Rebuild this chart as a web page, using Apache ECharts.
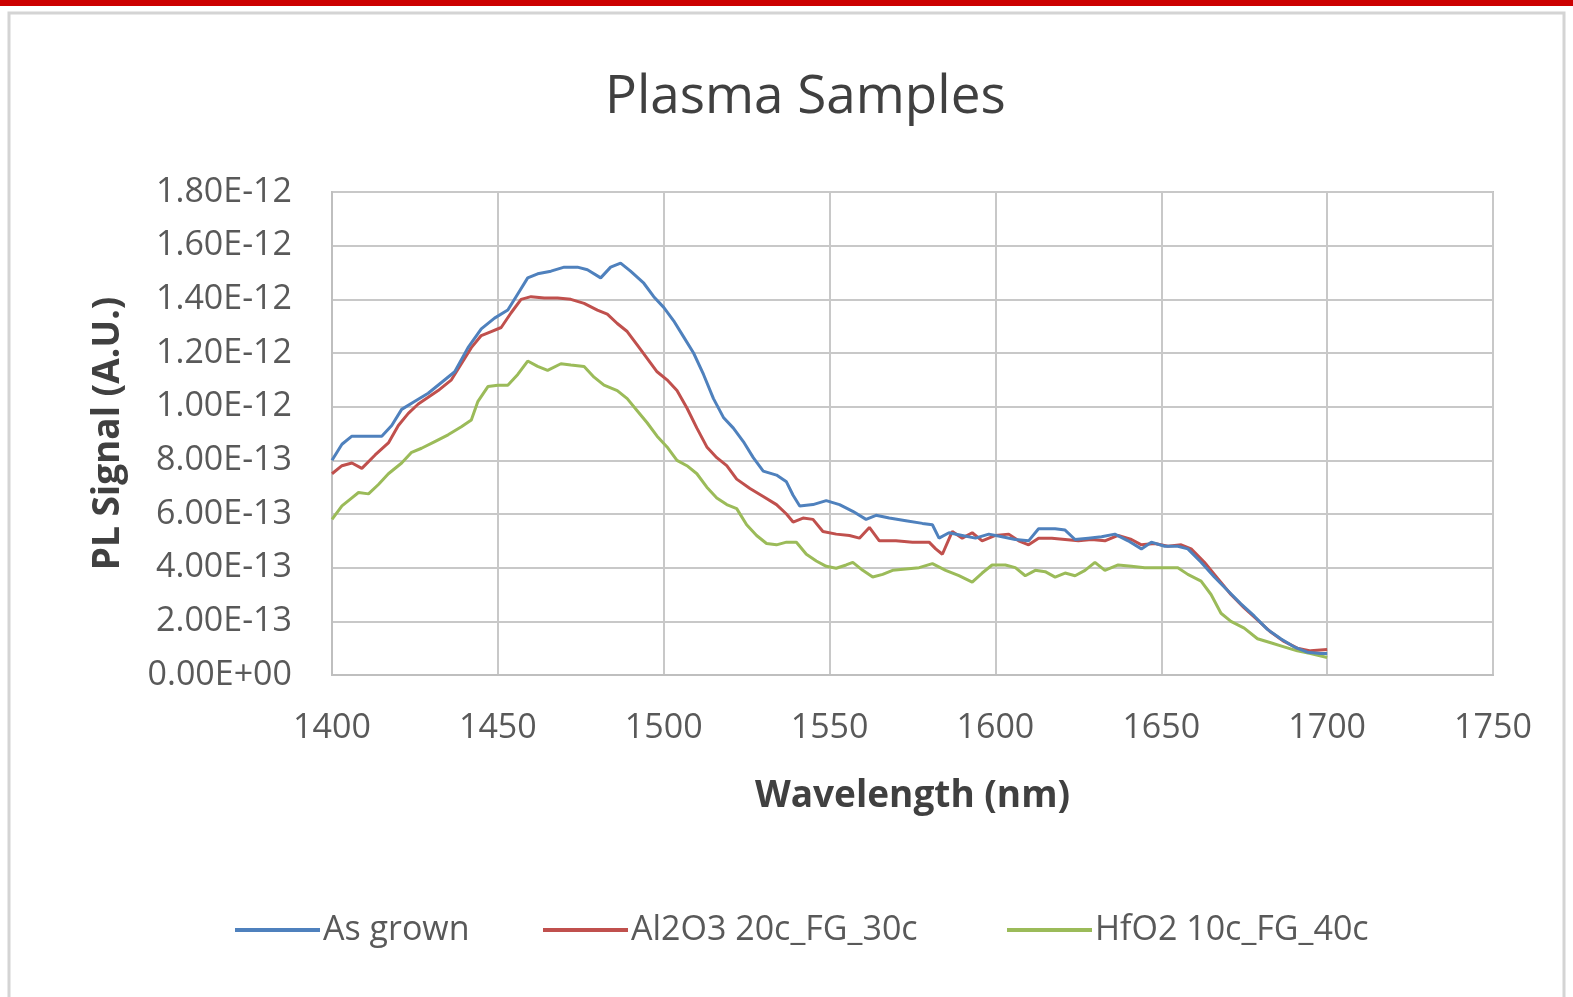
<!DOCTYPE html>
<html><head><meta charset="utf-8">
<script src="https://cdn.jsdelivr.net/npm/echarts@6/dist/echarts.min.js"></script>
<style>html,body{margin:0;padding:0;background:#fff;}#c{width:1573px;height:997px;}</style>
</head><body><div id="c"></div>
<script>
const seriesNames = ["As grown", "Al2O3 20c_FG_30c", "HfO2 10c_FG_40c"];
const xTicks = [1400, 1450, 1500, 1550, 1600, 1650, 1700, 1750];

const asGrownX = [1400,1403,1406,1410,1415,1418,1421,1425,1429,1433,1437,1441,1445,1449,1453,1456,1459,1462,1466,1470,1474,1477,1481,1484,1487,1490,1494,1497,1500,1503,1506,1509,1512,1515,1518,1521,1524,1527,1530,1534,1537,1539,1541,1545,1549,1553,1557,1561,1564,1568,1573,1578,1581,1583,1586,1590,1594,1598,1602,1606,1610,1613,1618,1621,1624,1628,1632,1636,1640,1644,1647,1651,1655,1658,1662,1666,1670,1674,1678,1682,1686,1690,1694,1698,1700];
const asGrownY = [8.0e-13,8.6e-13,8.9e-13,8.9e-13,8.9e-13,9.3e-13,9.9e-13,10.2e-13,10.5e-13,10.9e-13,11.3e-13,12.2e-13,12.9e-13,13.3e-13,13.6e-13,14.2e-13,14.8e-13,14.95e-13,15.05e-13,15.2e-13,15.2e-13,15.1e-13,14.8e-13,15.2e-13,15.35e-13,15.05e-13,14.6e-13,14.1e-13,13.7e-13,13.2e-13,12.6e-13,12.0e-13,11.2e-13,10.3e-13,9.6e-13,9.2e-13,8.7e-13,8.1e-13,7.6e-13,7.45e-13,7.2e-13,6.7e-13,6.3e-13,6.35e-13,6.5e-13,6.35e-13,6.1e-13,5.8e-13,5.95e-13,5.85e-13,5.75e-13,5.65e-13,5.6e-13,5.1e-13,5.3e-13,5.2e-13,5.1e-13,5.25e-13,5.15e-13,5.05e-13,5.0e-13,5.45e-13,5.45e-13,5.4e-13,5.05e-13,5.1e-13,5.15e-13,5.25e-13,5.0e-13,4.7e-13,4.95e-13,4.8e-13,4.8e-13,4.7e-13,4.2e-13,3.65e-13,3.15e-13,2.65e-13,2.2e-13,1.7e-13,1.35e-13,1.05e-13,0.85e-13,0.8e-13,0.8e-13];

const al2o3X = [1400,1403,1406,1409,1413,1417,1420,1423,1426,1429,1432,1436,1439,1442,1445,1448,1451,1454,1457,1460,1464,1468,1472,1476,1480,1483,1486,1489,1492,1495,1498,1501,1504,1507,1510,1513,1516,1519,1522,1526,1530,1534,1537,1539,1542,1545,1548,1552,1556,1559,1562,1565,1570,1575,1580,1582,1584,1587,1590,1593,1596,1600,1604,1607,1610,1613,1617,1621,1625,1629,1633,1637,1641,1644,1648,1652,1656,1659,1663,1667,1671,1675,1679,1683,1687,1691,1695,1700];
const al2o3Y = [7.5e-13,7.8e-13,7.9e-13,7.7e-13,8.2e-13,8.65e-13,9.3e-13,9.75e-13,10.1e-13,10.35e-13,10.6e-13,11.0e-13,11.6e-13,12.2e-13,12.65e-13,12.8e-13,12.95e-13,13.5e-13,14.0e-13,14.1e-13,14.05e-13,14.05e-13,14.0e-13,13.85e-13,13.6e-13,13.45e-13,13.1e-13,12.8e-13,12.3e-13,11.8e-13,11.3e-13,11.0e-13,10.6e-13,9.95e-13,9.2e-13,8.5e-13,8.1e-13,7.8e-13,7.3e-13,6.95e-13,6.65e-13,6.35e-13,6.0e-13,5.7e-13,5.85e-13,5.8e-13,5.35e-13,5.25e-13,5.2e-13,5.1e-13,5.5e-13,5.0e-13,5.0e-13,4.95e-13,4.95e-13,4.7e-13,4.5e-13,5.35e-13,5.1e-13,5.3e-13,5.0e-13,5.2e-13,5.25e-13,5.0e-13,4.85e-13,5.1e-13,5.1e-13,5.05e-13,5.0e-13,5.05e-13,5.0e-13,5.2e-13,5.05e-13,4.85e-13,4.9e-13,4.8e-13,4.85e-13,4.7e-13,4.2e-13,3.6e-13,3.0e-13,2.5e-13,2.05e-13,1.6e-13,1.25e-13,1.0e-13,0.9e-13,0.95e-13];

const hfo2X = [1400,1403,1406,1408,1411,1414,1417,1421,1424,1427,1431,1435,1439,1442,1444,1447,1450,1453,1456,1459,1462,1465,1469,1472,1476,1479,1482,1486,1489,1492,1495,1498,1501,1504,1507,1510,1513,1516,1519,1522,1525,1528,1531,1534,1537,1540,1543,1546,1549,1552,1555,1557,1560,1563,1566,1569,1573,1577,1581,1585,1589,1593,1596,1599,1603,1606,1609,1612,1615,1618,1621,1624,1627,1630,1633,1637,1641,1645,1650,1655,1658,1662,1665,1668,1671,1675,1679,1683,1687,1691,1695,1700];
const hfo2Y = [5.8e-13,6.3e-13,6.6e-13,6.8e-13,6.75e-13,7.1e-13,7.5e-13,7.9e-13,8.3e-13,8.45e-13,8.7e-13,8.95e-13,9.25e-13,9.5e-13,10.2e-13,10.75e-13,10.8e-13,10.8e-13,11.2e-13,11.7e-13,11.5e-13,11.35e-13,11.6e-13,11.55e-13,11.5e-13,11.1e-13,10.8e-13,10.6e-13,10.3e-13,9.85e-13,9.4e-13,8.9e-13,8.5e-13,8.0e-13,7.8e-13,7.5e-13,7.0e-13,6.6e-13,6.35e-13,6.2e-13,5.6e-13,5.2e-13,4.9e-13,4.85e-13,4.95e-13,4.95e-13,4.5e-13,4.25e-13,4.05e-13,3.98e-13,4.1e-13,4.2e-13,3.9e-13,3.65e-13,3.75e-13,3.9e-13,3.95e-13,4.0e-13,4.15e-13,3.9e-13,3.7e-13,3.46e-13,3.8e-13,4.1e-13,4.1e-13,4.0e-13,3.7e-13,3.9e-13,3.85e-13,3.65e-13,3.8e-13,3.7e-13,3.9e-13,4.2e-13,3.9e-13,4.1e-13,4.05e-13,4.0e-13,4.0e-13,4.0e-13,3.75e-13,3.5e-13,3.0e-13,2.3e-13,2.0e-13,1.75e-13,1.35e-13,1.2e-13,1.05e-13,0.9e-13,0.8e-13,0.65e-13];

const colors = ["#4F81BD", "#C0504D", "#9BBB59"];

function zip(xs, ys) { return xs.map((x, i) => [x, ys[i]]); }
function fmtE(v) {
  let s = Number(v).toExponential(2).toUpperCase();
  return s.replace(/E([+-])(\d)$/, "E$10$2");
}

const chart = echarts.init(document.getElementById('c'), null, {renderer: 'canvas'});
const font = '"Open Sans", Lato, sans-serif';
const lineSeries = [[asGrownX, asGrownY], [al2o3X, al2o3Y], [hfo2X, hfo2Y]].map((p, i) => ({
  name: seriesNames[i], type: 'line', data: zip(p[0], p[1]), showSymbol: false, symbol: 'none',
  lineStyle: {color: colors[i], width: 3}, itemStyle: {color: colors[i]}, animation: false, z: 3 - i + 2
}));
const legendLefts = [230, 538, 1002];
const legends = seriesNames.map((n, i) => ({
  data: [n], left: legendLefts[i], top: 908, itemWidth: 85, itemHeight: 4, icon: 'rect',
  textStyle: {fontFamily: font, fontSize: 34, color: '#595959', padding: [0, 0, 0, -2]}
}));

chart.setOption({
  backgroundColor: '#ffffff',
  animation: false,
  textStyle: {fontFamily: font},
  title: {text: 'Plasma Samples', left: 600, top: 66,
    textStyle: {fontFamily: font, fontSize: 53, fontWeight: 'normal', color: '#404040'}},
  graphic: [
    {type: 'rect', shape: {x: 0, y: 0, width: 1573, height: 6}, style: {fill: '#CC0000'}, z: 100},
    {type: 'rect', shape: {x: 9, y: 13, width: 1555, height: 1000}, style: {fill: 'none', stroke: '#D4D4D4', lineWidth: 3}, z: 100}
  ],
  grid: {left: 332, right: 80, top: 192, bottom: 322, show: true, borderColor: '#BFBFBF', borderWidth: 2},
  legend: legends,
  xAxis: {
    type: 'value', min: 1400, max: 1750, interval: 50,
    name: 'Wavelength (nm)', nameLocation: 'middle', nameGap: 103,
    nameTextStyle: {fontFamily: font, fontSize: 37, fontWeight: 'bold', color: '#404040'},
    axisLine: {show: true, lineStyle: {color: '#BFBFBF', width: 2}},
    axisTick: {show: false},
    axisLabel: {fontSize: 34, color: '#595959', margin: 36, fontFamily: font, formatter: v => String(v)},
    splitLine: {show: true, lineStyle: {color: '#C8C8C8', width: 2}}
  },
  yAxis: {
    type: 'value', min: 0, max: 1.8e-12, interval: 2e-13,
    name: 'PL Signal (A.U.)', nameLocation: 'middle', nameGap: 205,
    nameTextStyle: {fontFamily: font, fontSize: 37, fontWeight: 'bold', color: '#404040'},
    axisLine: {show: true, lineStyle: {color: '#BFBFBF', width: 2}},
    axisTick: {show: false},
    axisLabel: {fontSize: 34, color: '#595959', margin: 40, fontFamily: font, formatter: fmtE},
    splitLine: {show: true, lineStyle: {color: '#C8C8C8', width: 2}}
  },
  series: lineSeries
});
</script>
</body></html>
